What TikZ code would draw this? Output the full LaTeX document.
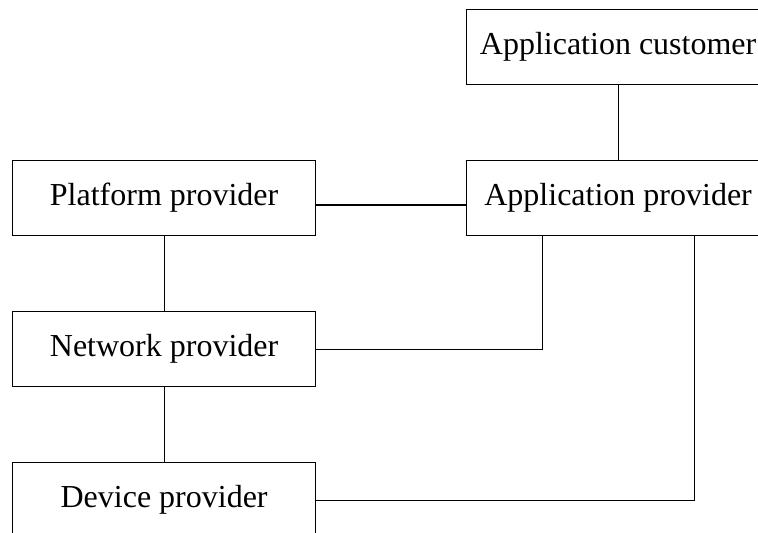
\documentclass[tikz,border=0pt]{standalone}
\usepackage{fontspec}
\setmainfont{Liberation Serif}
\usetikzlibrary{calc}
\begin{document}
\begin{tikzpicture}[x=1pt,y=1pt,
  box/.style={draw, line width=1.2pt, minimum width=303pt, minimum height=75pt, inner sep=0pt, anchor=north west, font=\fontsize{32}{38}\selectfont},
  conn/.style={line width=1.2pt}]
\useasboundingbox (0,0) rectangle (758,-533);
\clip (0,0) rectangle (758,-533);
\node[box] (cust) at (466,-9) {Application customer};
\node[box] (app) at (466,-160) {Application provider};
\node[box] (plat) at (12,-160) {Platform provider};
\node[box] (net) at (12,-311) {Network provider};
\node[box] (dev) at (12,-462) {Device provider};
\draw[conn] (cust.south) -- (app.north);
\draw[conn] (plat.south) -- (net.north);
\draw[conn] (net.south) -- (dev.north);
\coordinate (pa) at ($(plat.north east)+(0,-45)$);
\draw[conn] (pa) -- (pa -| app.west);
\coordinate (a1) at ([xshift=-76pt]app.south);
\coordinate (a2) at ([xshift=76pt]app.south);
\draw[conn] (net.east) -| (a1);
\draw[conn] (dev.east) -| (a2);
\end{tikzpicture}
\end{document}
